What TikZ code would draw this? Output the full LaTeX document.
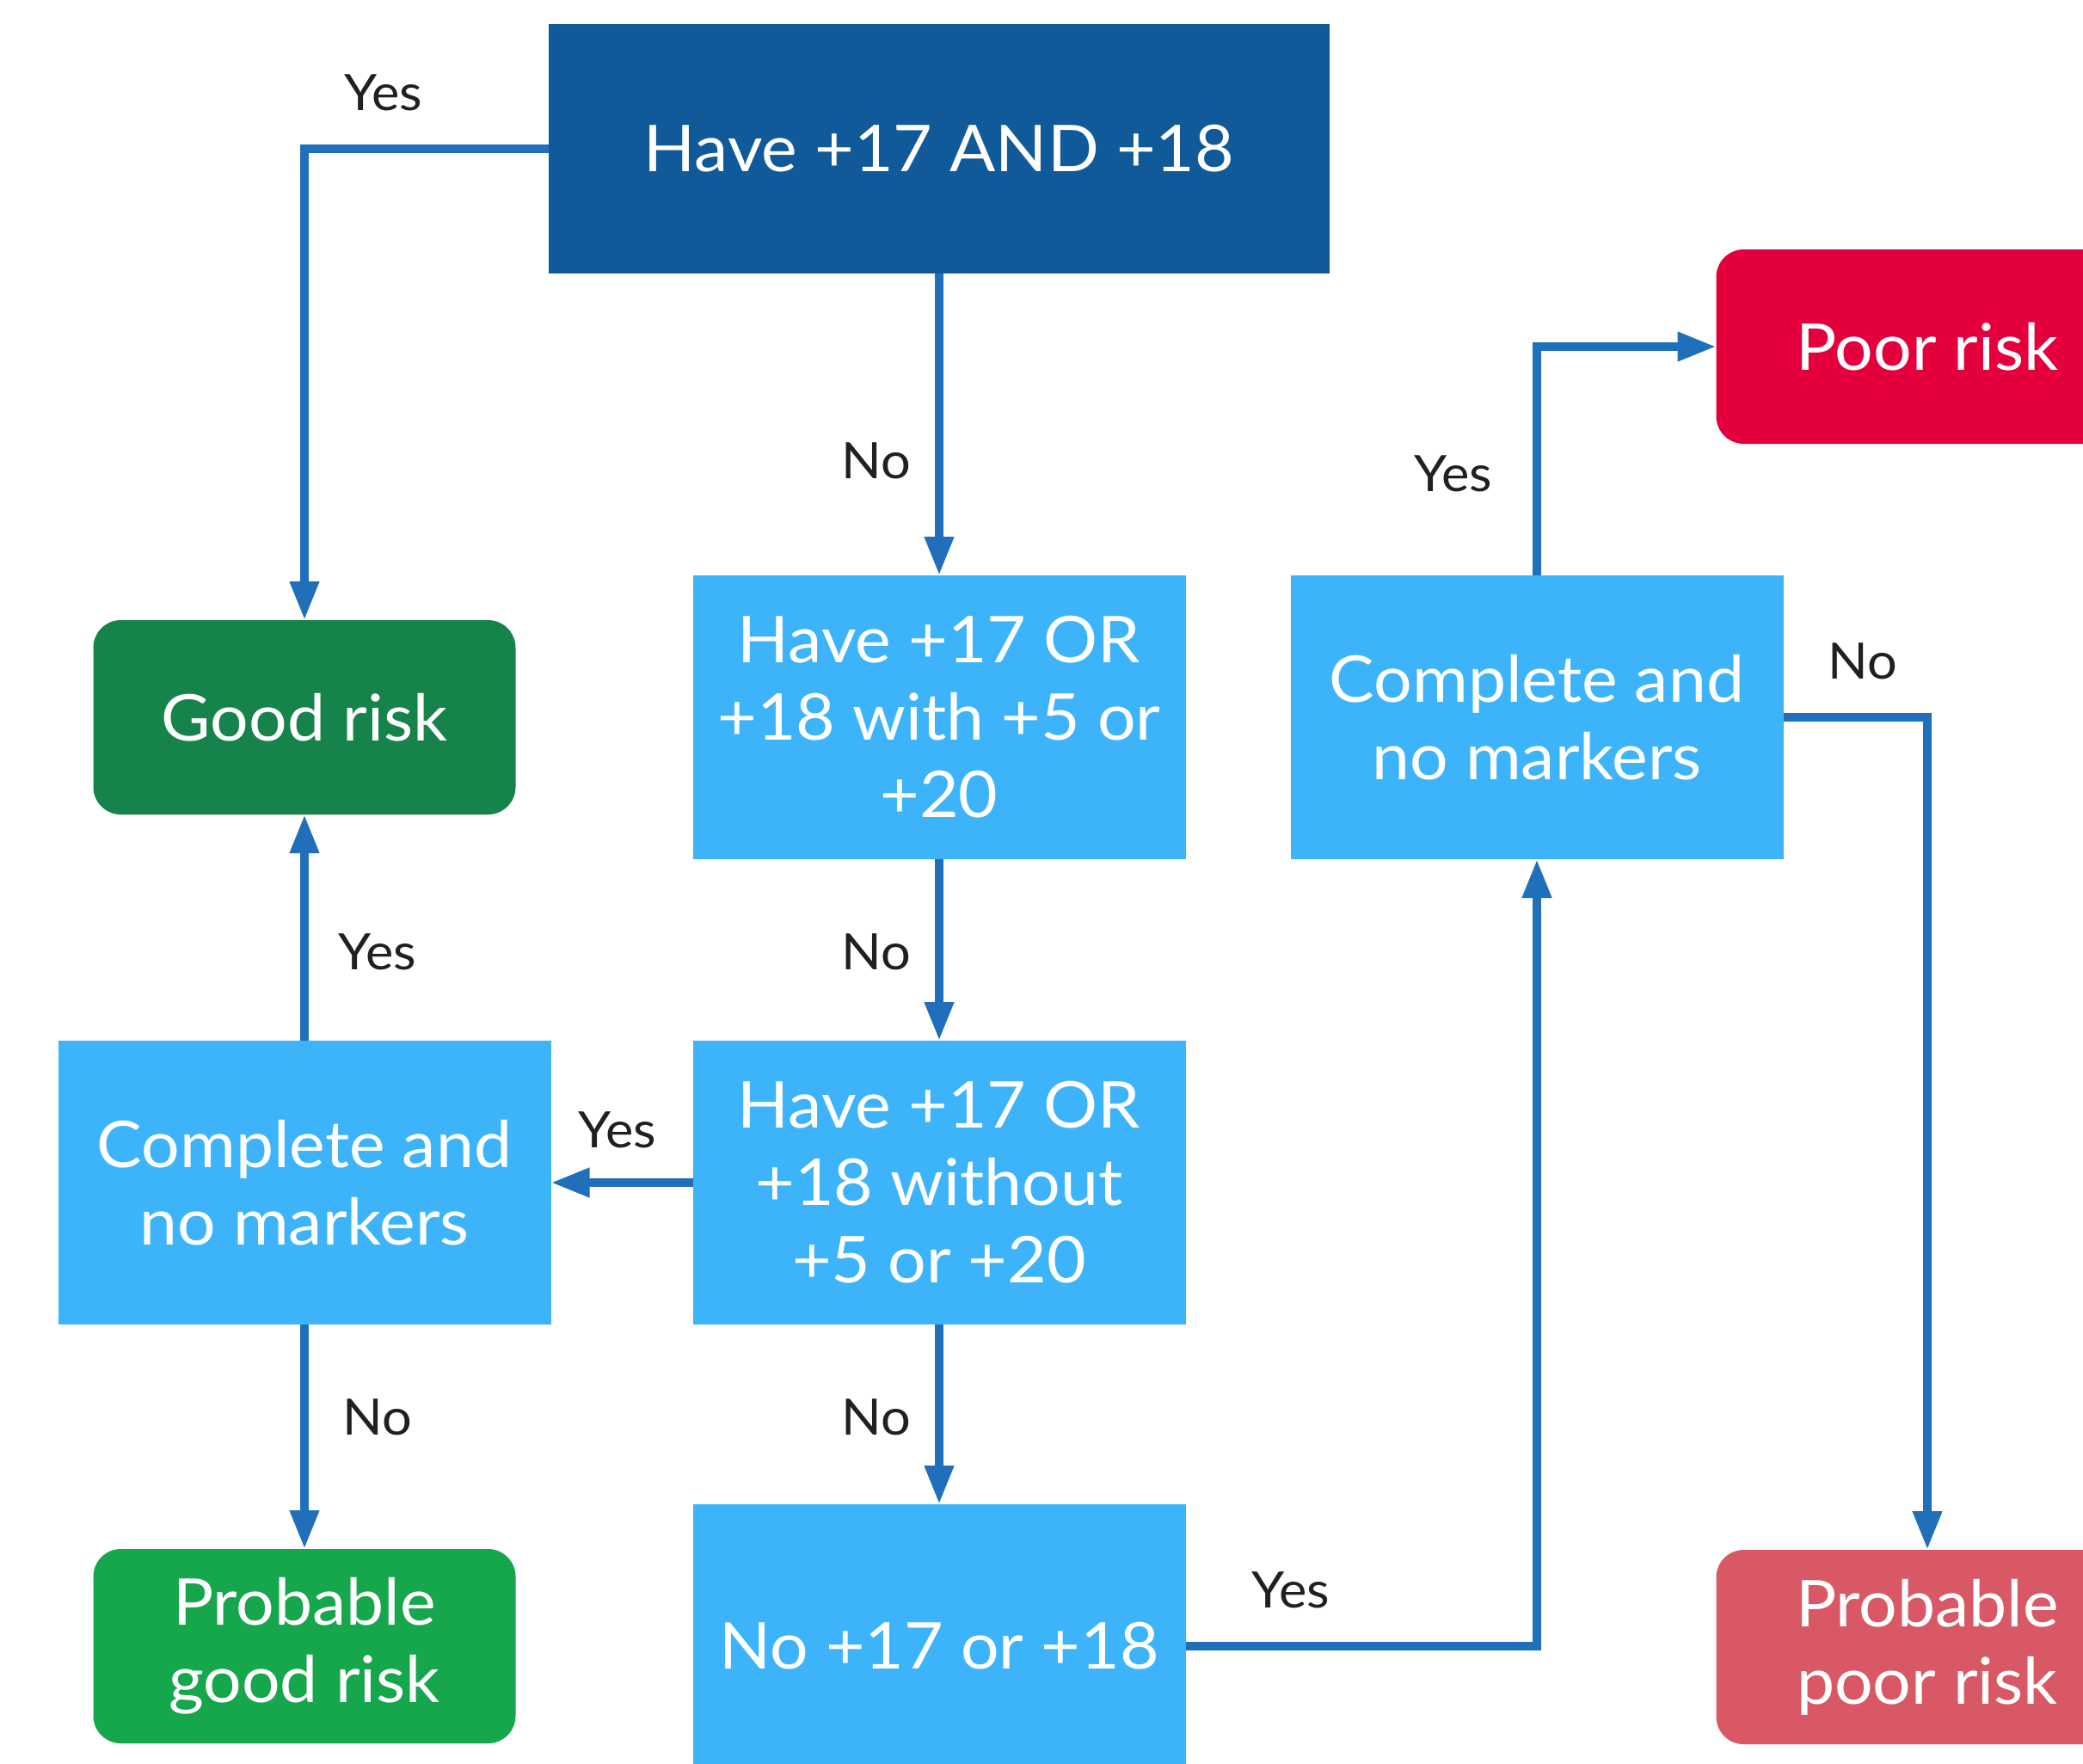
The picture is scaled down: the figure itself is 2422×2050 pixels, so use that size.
\documentclass[tikz,border=0pt]{standalone}
\usepackage{fontspec}
\setmainfont{Lato}[FakeStretch=1.05]
\usetikzlibrary{arrows.meta}
\definecolor{darkblue}{HTML}{115A99}
\definecolor{lightblue}{HTML}{3DB4FA}
\definecolor{goodgreen}{HTML}{16834A}
\definecolor{probgreen}{HTML}{16A64C}
\definecolor{poorred}{HTML}{E4003D}
\definecolor{probred}{HTML}{D85866}
\definecolor{arrowblue}{HTML}{1F6FBA}
\definecolor{labelgray}{HTML}{231F20}
\tikzset{
  box/.style={inner sep=0pt, outer sep=0pt, align=center, text=white,
    font=\fontsize{22.5}{27}\selectfont},
  decbox/.style={box, fill=lightblue, minimum width=171.9pt, minimum height=99pt},
  endbox/.style={box, rounded corners=9.6pt, minimum width=147.3pt, minimum height=67.8pt},
  arr/.style={draw=arrowblue, line width=3pt, -{Triangle[length=13.5pt,width=9.6pt]}},
  lbl/.style={text=labelgray, font=\fontsize{17.5}{20}\selectfont, inner sep=0pt}
}
\begin{document}
\begin{tikzpicture}[x=0.3pt,y=-0.3pt]
\useasboundingbox (0,0) rectangle (2422,2050);
\clip (0,0) rectangle (2422,2050);
\node[box, fill=darkblue, minimum width=272.4pt, minimum height=87pt] (top) at (1092,173) {Have +17 AND +18};
\node[endbox, fill=goodgreen] (gr) at (354,834) {Good risk};
\node[decbox] (b2) at (1092,834) {Have +17 OR\\+18 with +5 or\\+20};
\node[decbox] (rc) at (1787,834) {Complete and\\no markers};
\node[endbox, fill=poorred] (pr) at (2241,403) {Poor risk};
\node[decbox] (lc) at (354,1375) {Complete and\\no markers};
\node[decbox] (b3) at (1092,1375) {Have +17 OR\\+18 without\\+5 or +20};
\node[endbox, fill=probgreen] (pgr) at (354,1914) {Probable\\good risk};
\node[decbox] (nb) at (1092,1914) {No +17 or +18};
\node[endbox, fill=probred] (ppr) at (2241,1915) {Probable\\poor risk};
\draw[arr] (top.west) -| (gr.north);
\draw[arr] (top.south) -- (b2.north);
\draw[arr] (b2.south) -- (b3.north);
\draw[arr] (b3.west) -- (lc.east);
\draw[arr] (lc.north) -- (gr.south);
\draw[arr] (lc.south) -- (pgr.north);
\draw[arr] (b3.south) -- (nb.north);
\draw[arr] (nb.east) -| (rc.south);
\draw[arr] (rc.north) |- (pr.west);
\draw[arr] (rc.east) -| (ppr.north);
\node[lbl] (l1) at (446,108) {Yes};
\node[lbl] (l2) at (1019,536) {No};
\node[lbl] (l3) at (1019,1107) {No};
\node[lbl] (l4) at (718,1314) {Yes};
\node[lbl] (l5) at (439,1107) {Yes};
\node[lbl] (l6) at (439,1648) {No};
\node[lbl] (l7) at (1019,1648) {No};
\node[lbl] (l8) at (1501,1849) {Yes};
\node[lbl] (l9) at (1690,551) {Yes};
\node[lbl] (l10) at (2166,769) {No};
\end{tikzpicture}
\end{document}
